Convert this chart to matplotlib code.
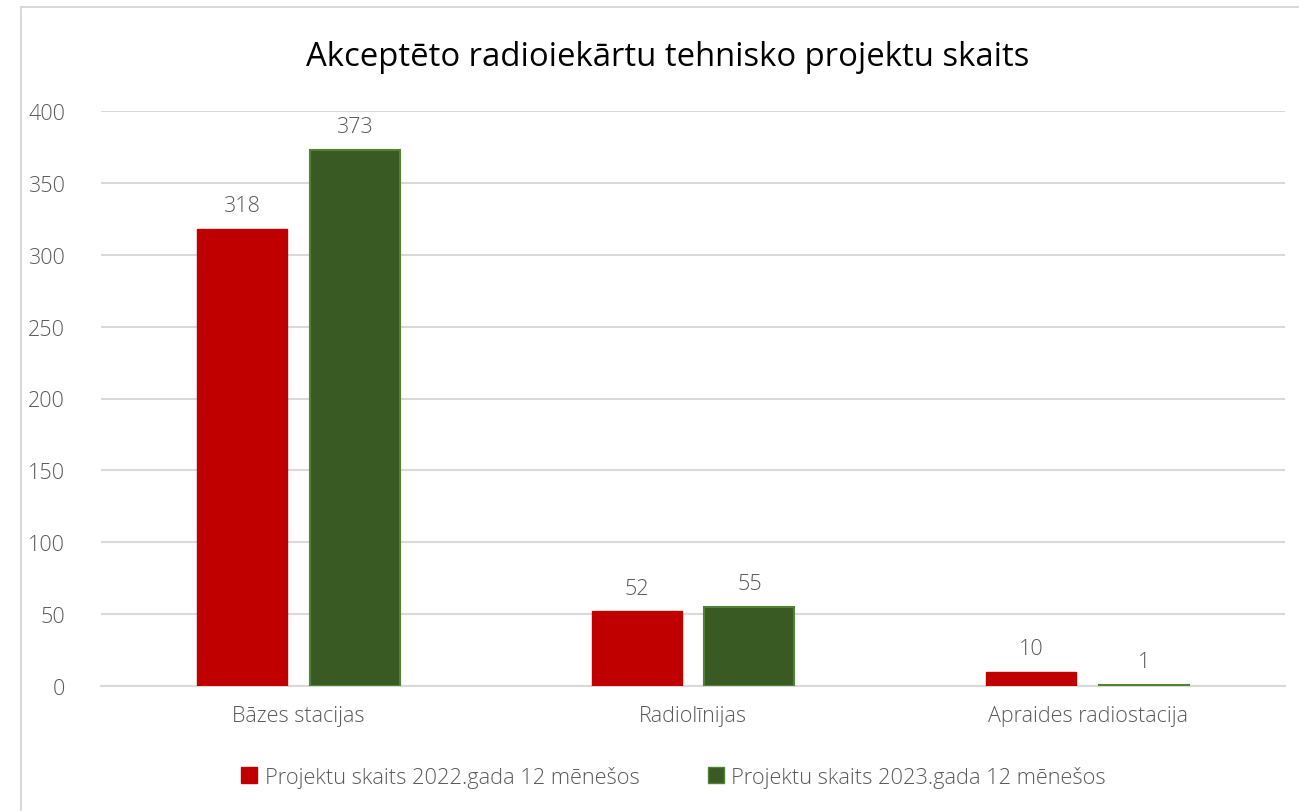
import numpy as np
import matplotlib.pyplot as plt
from matplotlib.patches import Rectangle
from matplotlib.lines import Line2D

categories = ["Bāzes stacijas", "Radiolīnijas", "Apraides radiostacija"]
values_2022 = [318, 52, 10]
values_2023 = [373, 55, 1]
series_names = ["Projektu skaits 2022.gada 12 mēnešos",
                "Projektu skaits 2023.gada 12 mēnešos"]

plt.rcParams['font.family'] = ['Open Sans', 'DejaVu Sans']
plt.rcParams['font.weight'] = 'light'

fig = plt.figure(figsize=(12.99, 8.12), dpi=100)
ax = fig.add_axes([101 / 1299, 1 - 687 / 812, 1184 / 1299, 575 / 812])

# chart border
fig.patches.append(Rectangle((21 / 1299, -0.05), 1.1, 1 - 8 / 812 + 0.05,
                             transform=fig.transFigure, fill=False,
                             edgecolor='#d9d9d9', linewidth=1.5))

x = np.arange(len(categories))
w = 0.228
off = 0.143
b1 = ax.bar(x - off, values_2022, w, color='#c00000', edgecolor='#c00000',
            linewidth=1, zorder=3)
b2 = ax.bar(x + off, values_2023, w, color='#3a5a24', edgecolor='#548235',
            linewidth=1.5, zorder=3)

for bars in (b1, b2):
    for r in bars:
        ax.annotate(f"{int(r.get_height())}",
                    (r.get_x() + r.get_width() / 2, r.get_height()),
                    xytext=(0, 9), textcoords='offset points',
                    ha='center', va='bottom', fontsize=15.5, color='#595959')

ax.set_xlim(-0.5, 2.5)
ax.set_ylim(0, 400)
ax.set_yticks(np.arange(0, 401, 50))
ax.set_xticks(x)
ax.set_xticklabels(categories)
ax.yaxis.grid(True, color='#d9d9d9', linewidth=1.5, zorder=0)
ax.tick_params(axis='both', length=0, labelsize=15.5, colors='#595959')
ax.tick_params(axis='y', pad=26)
ax.tick_params(axis='x', pad=14)
for s in ['top', 'right', 'left']:
    ax.spines[s].set_visible(False)
ax.spines['bottom'].set_color('#d9d9d9')
ax.spines['bottom'].set_linewidth(1.5)

fig.text(668 / 1299, 1 - 58 / 812, "Akceptēto radioiekārtu tehnisko projektu skaits",
         ha='center', va='center', fontsize=23.7, color='black',
         fontweight='normal')

handles = [Line2D([], [], marker='s', linestyle='', markersize=12,
                  color='#c00000'),
           Line2D([], [], marker='s', linestyle='', markersize=12,
                  color='#3a5a24', markeredgecolor='#548235')]
fig.legend(handles, series_names, loc='center', ncol=2,
           bbox_to_anchor=(672 / 1299, 1 - 778 / 812), frameon=False,
           fontsize=15.7, labelcolor='#595959', handletextpad=0.2,
           columnspacing=3.0, handlelength=1.0)

fig.savefig("out.png", dpi=100)
